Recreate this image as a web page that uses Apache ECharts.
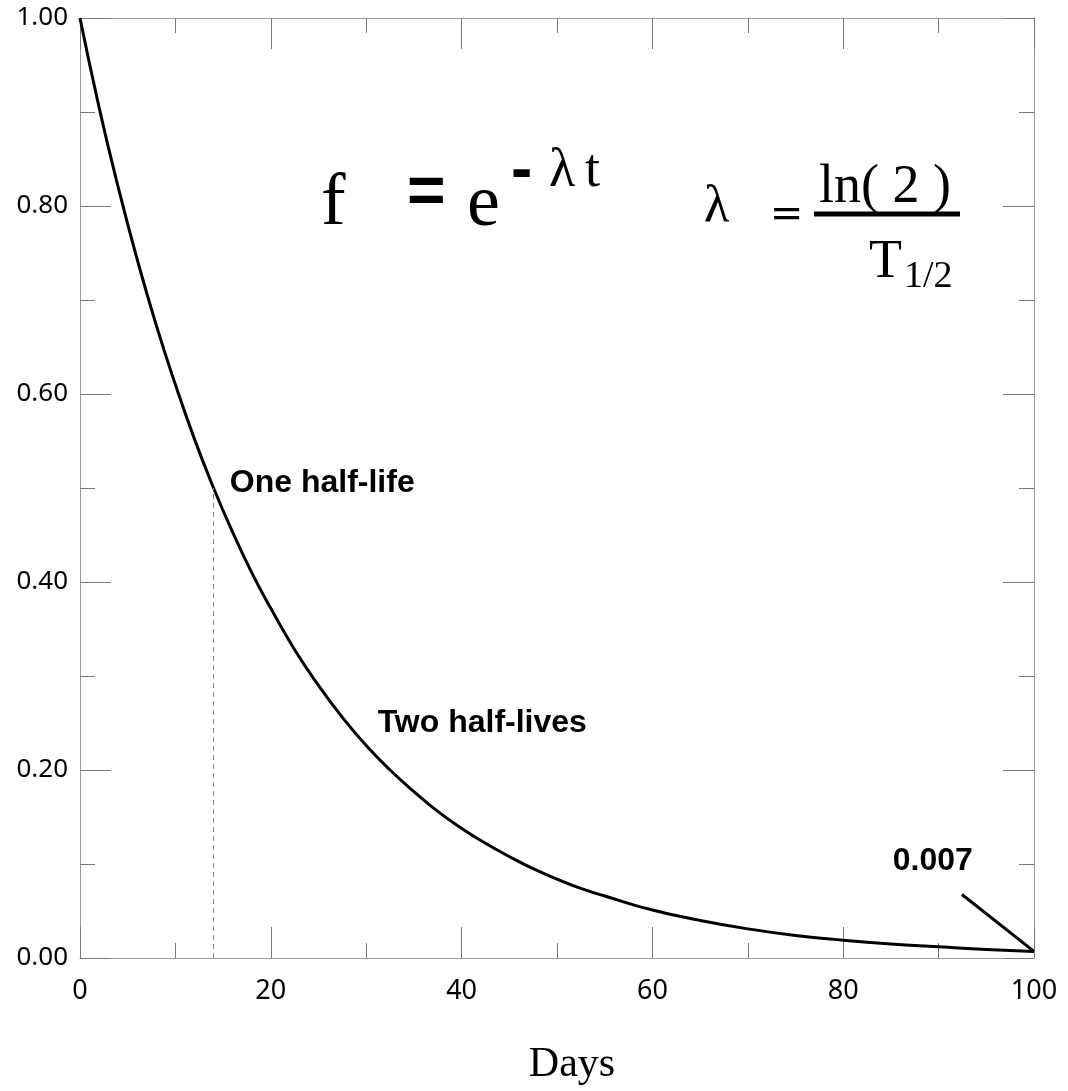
<!DOCTYPE html>
<html>
<head>
<meta charset="utf-8">
<script src="https://cdn.jsdelivr.net/npm/echarts@6/dist/echarts.min.js"></script>
<style>
  html, body { margin: 0; padding: 0; background: #fff; }
  #decay { width: 1068px; height: 1091px; }
</style>
</head>
<body>
<div id="decay"></div>
<script>
// values (fraction remaining vs days)
const days = [0, 2, 4, 6, 8, 10, 12, 14, 16, 18, 20, 22.5, 25, 27.5, 30, 32.5, 35, 37.5, 40,
  42.5, 45, 47.5, 50, 52.5, 55, 60, 65, 70, 75, 80, 85, 90, 95, 100];
const fraction = [1.0, 0.905, 0.82, 0.743, 0.673, 0.61, 0.552, 0.5, 0.453, 0.41, 0.372,
  0.328, 0.29, 0.256, 0.226, 0.2, 0.177, 0.156, 0.138,
  0.122, 0.108, 0.095, 0.084, 0.074, 0.066, 0.051, 0.04, 0.031, 0.024, 0.019, 0.015, 0.012, 0.009, 0.007];

// annotations: [x, y, text]
const halfLifeLine = [[14, 0], [14, 0.5]];
const pointer = [[92.45, 0.0675], [100, 0.007]];
const notes = [
  [15.7, 0.505, 'One half-life'],
  [31.2, 0.25, 'Two half-lives'],
  [85.2, 0.103, '0.007']
];

const frameColor = '#9a9a9a';
const tickColor = '#777';

function boxAxis(pos, isX, showLabel) {
  return {
    type: 'value',
    position: pos,
    min: 0,
    max: isX ? 100 : 1,
    interval: isX ? 20 : 0.2,
    axisLine: { show: true, onZero: false, lineStyle: { color: frameColor, width: 1 } },
    axisTick: { show: true, inside: true, length: 31, lineStyle: { color: tickColor, width: 1 } },
    minorTick: { show: true, splitNumber: 2, length: 15, lineStyle: { color: tickColor, width: 1 } },
    splitLine: { show: false },
    axisLabel: { show: showLabel }
  };
}

const xBottom = boxAxis('bottom', true, true);
xBottom.axisLabel = {
  show: true, fontFamily: 'Noto Sans', fontSize: 27, color: '#000', margin: 20
};
xBottom.name = 'Days';
xBottom.nameLocation = 'middle';
xBottom.nameGap = 86;
xBottom.nameTextStyle = {
  fontFamily: 'Liberation Serif', fontSize: 42, color: '#000', padding: [0, 0, 0, 30]
};

const yLeft = boxAxis('left', false, true);
yLeft.axisLabel = {
  show: true, fontFamily: 'Noto Sans', fontSize: 26, color: '#000', margin: 12,
  formatter: v => v.toFixed(2)
};

const serif = 'Liberation Serif';
const sans = 'Liberation Sans';

const option = {
  backgroundColor: '#fff',
  animation: false,
  grid: { left: 80, right: 34, top: 18, bottom: 110 },
  xAxis: [xBottom, boxAxis('top', true, false)],
  yAxis: [yLeft, boxAxis('right', false, false)],
  graphic: [
    { type: 'text', x: 321, y: 205, style: { text: 'f', font: '74px ' + serif, fill: '#000', verticalAlign: 'middle' } },
    { type: 'text', x: 407, y: 195, style: { text: '=', font: 'bold 66px ' + sans, fill: '#000', verticalAlign: 'middle' } },
    { type: 'text', x: 467, y: 206, style: { text: 'e', font: '74px ' + serif, fill: '#000', verticalAlign: 'middle' } },
    { type: 'text', x: 511, y: 172, style: { text: '-', font: 'bold 64px ' + sans, fill: '#000', verticalAlign: 'middle' } },
    { type: 'text', x: 549, y: 172, style: { text: 'λ', font: '54px ' + serif, fill: '#000', verticalAlign: 'middle' } },
    { type: 'text', x: 585, y: 172, style: { text: 't', font: '54px ' + serif, fill: '#000', verticalAlign: 'middle' } },
    { type: 'text', x: 704, y: 207, style: { text: 'λ', font: '52px ' + serif, fill: '#000', verticalAlign: 'middle' } },
    { type: 'text', x: 772, y: 216, scaleY: 0.6, originX: 0, originY: 0, style: { text: '=', font: 'bold 50px ' + sans, fill: '#000', verticalAlign: 'middle' } },
    { type: 'text', x: 819, y: 188, style: { text: 'ln( 2 )', font: '54px ' + serif, fill: '#000', verticalAlign: 'middle' } },
    { type: 'line', shape: { x1: 814, y1: 214, x2: 960, y2: 214 }, style: { stroke: '#000', lineWidth: 5 } },
    { type: 'text', x: 869, y: 263, style: { text: 'T', font: '54px ' + serif, fill: '#000', verticalAlign: 'middle' } },
    { type: 'text', x: 904, y: 277, style: { text: '1/2', font: '38px ' + serif, fill: '#000', verticalAlign: 'middle' } }
  ],
  series: [
    {
      type: 'line',
      data: days.map((d, i) => [d, fraction[i]]),
      smooth: 0.5,
      showSymbol: false,
      lineStyle: { color: '#000', width: 3 },
      itemStyle: { color: '#000' },
      markLine: {
        silent: true,
        symbol: 'none',
        label: { show: false },
        data: [
          [{ coord: halfLifeLine[0], lineStyle: { color: '#888', width: 1, type: [5, 4] } }, { coord: halfLifeLine[1] }],
          [{ coord: pointer[0], lineStyle: { color: '#000', width: 3, type: 'solid' } }, { coord: pointer[1] }]
        ]
      },
      markPoint: {
        silent: true,
        symbolSize: 0,
        data: notes.map(n => ({
          coord: [n[0], n[1]],
          label: {
            show: true, position: 'right', distance: 0, formatter: n[2],
            fontFamily: sans, fontWeight: 'bold', fontSize: 32, color: '#000'
          }
        }))
      }
    }
  ]
};

const chart = echarts.init(document.getElementById('decay'));
chart.setOption(option);
</script>
</body>
</html>
